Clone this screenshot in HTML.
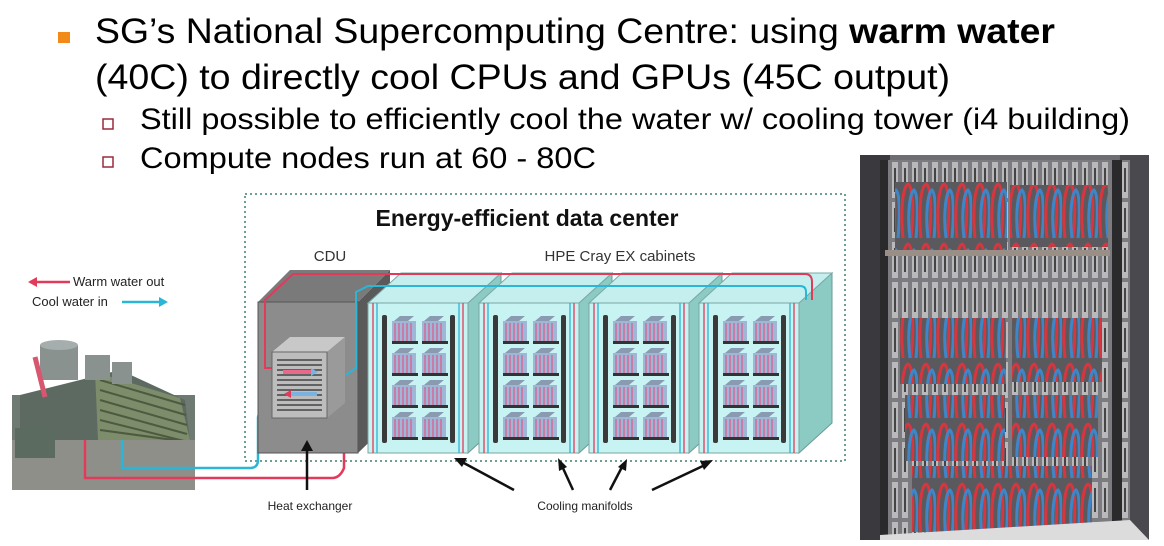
<!DOCTYPE html>
<html><head><meta charset="utf-8"><style>
html,body{margin:0;padding:0;background:#fff;}
body{width:1164px;height:546px;overflow:hidden;position:relative;font-family:"Liberation Sans",Arial,sans-serif;}
</style></head><body>
<svg width="1164" height="546" viewBox="0 0 1164 546" xmlns="http://www.w3.org/2000/svg" style="position:absolute;left:0;top:0">
<defs>
 <pattern id="loops" x="0" y="0" width="18" height="60" patternUnits="userSpaceOnUse">
  <rect width="18" height="60" fill="#5a5a5e"/>
  <path d="M3 58 C0 30 3 6 8 4 C13 6 14 30 11 58" fill="none" stroke="#d8353f" stroke-width="3"/>
  <path d="M10 58 C7 34 10 12 14 10 C18 14 18 36 16 58" fill="none" stroke="#3f86c9" stroke-width="3"/>
 </pattern>
 <pattern id="blades" x="0" y="0" width="10" height="40" patternUnits="userSpaceOnUse">
  <rect width="10" height="40" fill="#7b7b80"/>
  <rect x="2" y="2" width="6" height="36" fill="#b9b9bc"/>
  <rect x="4" y="8" width="2" height="24" fill="#444"/>
 </pattern>
 <g id="module">
  <rect x="0" y="4" width="24" height="22" fill="#9fb6d6"/>
  <path d="M3 6v20M7 6v20M11 6v20M15 6v20M19 6v20" stroke="#d46b9a" stroke-width="1.5"/>
  <path d="M2 4 l6 -5 h14 l-6 5z" fill="#8a9ab0"/>
  <rect x="0" y="24" width="26" height="3" fill="#333"/>
 </g>
 <g id="cab">
  <polygon points="100,0 133,-30 133,120 100,150" fill="#8ccbc4" stroke="#6a9a96"/>
  <polygon points="0,0 33,-30 133,-30 100,0" fill="#c4efee" stroke="#7aaaa6"/>
  <rect x="0" y="0" width="100" height="150" fill="#c8f3f3" stroke="#7aa6a2"/>
  <path d="M5 150V0M95 150V0" stroke="#e23a5b" stroke-width="1.3"/>
  <path d="M9 150V0M91 150V0" stroke="#2bb5d6" stroke-width="1.3"/>
  <rect x="14" y="12" width="5" height="128" fill="#3a3a3a" rx="2"/>
  <rect x="82" y="12" width="5" height="128" fill="#3a3a3a" rx="2"/>
  <use href="#module" x="24" y="14"/><use href="#module" x="54" y="14"/>
  <use href="#module" x="24" y="46"/><use href="#module" x="54" y="46"/>
  <use href="#module" x="24" y="78"/><use href="#module" x="54" y="78"/>
  <use href="#module" x="24" y="110"/><use href="#module" x="54" y="110"/>
 </g>
</defs>

<!-- text -->
<rect x="58" y="32" width="12" height="11" fill="#f28a1a"/>
<text x="95" y="43" font-size="35" fill="#000" textLength="960" lengthAdjust="spacingAndGlyphs">SG’s National Supercomputing Centre: using <tspan font-weight="bold">warm water</tspan></text>
<text x="95" y="89" font-size="35" fill="#000" textLength="855" lengthAdjust="spacingAndGlyphs">(40C) to directly cool CPUs and GPUs (45C output)</text>
<rect x="103" y="119" width="10" height="10" fill="#fff" stroke="#9b2a3a" stroke-width="1.5"/>
<text x="140" y="129" font-size="30" fill="#000" textLength="990" lengthAdjust="spacingAndGlyphs">Still possible to efficiently cool the water w/ cooling tower (i4 building)</text>
<rect x="103" y="157" width="10" height="10" fill="#fff" stroke="#9b2a3a" stroke-width="1.5"/>
<text x="140" y="168" font-size="30" fill="#000" textLength="456" lengthAdjust="spacingAndGlyphs">Compute nodes run at 60 - 80C</text>

<!-- diagram box -->
<rect x="245" y="194" width="600" height="267" fill="none" stroke="#3f7f70" stroke-width="1.5" stroke-dasharray="2,3"/>
<text x="527" y="226" font-size="23" font-weight="bold" text-anchor="middle" fill="#111">Energy-efficient data center</text>
<text x="330" y="261" font-size="15" text-anchor="middle" fill="#333">CDU</text>
<text x="620" y="261" font-size="15" text-anchor="middle" fill="#333">HPE Cray EX cabinets</text>

<!-- legend -->
<path d="M30 282H70" stroke="#e23a5b" stroke-width="2.5"/><path d="M28 282l9-5v10z" fill="#e23a5b"/>
<text x="73" y="286" font-size="13" fill="#222">Warm water out</text>
<text x="32" y="306" font-size="13" fill="#222">Cool water in</text>
<path d="M122 302H160" stroke="#2bb5d6" stroke-width="2.5"/><path d="M168 302l-9-5v10z" fill="#2bb5d6"/>

<!-- cooling tower -->
<rect x="12" y="395" width="183" height="95" fill="#6f7a72"/>
<polygon points="20,395 120,370 185,400 190,440 20,440" fill="#5c6a62"/>
<polygon points="95,372 180,398 190,440 98,440" fill="#7d8c6a"/>
<path d="M100 380l85 25M100 390l86 25M100 400l87 25M100 410l87 24M100 420l88 22M100 430l88 12" stroke="#4d5a3f" stroke-width="2"/>
<rect x="40" y="345" width="38" height="35" fill="#8a9290"/><ellipse cx="59" cy="345" rx="19" ry="5" fill="#a5aeac"/>
<rect x="85" y="355" width="25" height="25" fill="#8a9290"/>
<rect x="112" y="362" width="20" height="22" fill="#8a9290"/>
<rect x="12" y="440" width="183" height="50" fill="#8f8f8a"/>
<rect x="15" y="428" width="40" height="30" fill="#5b6b60"/>
<path d="M35 357l10 40" stroke="#d8566f" stroke-width="5"/>

<!-- pipes bottom -->
<path d="M122 440V468H250Q258 468 258 460V418Q258 412 268 410" fill="none" stroke="#2bb5d6" stroke-width="2.5"/>
<path d="M85 440V478H332Q340 478 344 468V402Q344 396 350 395" fill="none" stroke="#e23a5b" stroke-width="2.5"/>

<!-- CDU -->
<polygon points="358,302 390,270 390,422 358,453" fill="#5a5a5a"/>
<polygon points="258,302 290,270 390,270 358,302" fill="#7a7a7a"/>
<rect x="258" y="302" width="100" height="151" fill="#8c8c8c" stroke="#555"/>
<path d="M272 368H265V300L293 274H780" fill="none" stroke="#e23a5b" stroke-width="2"/>
<path d="M346 375L356 368V292L368 286H800" fill="none" stroke="#2bb5d6" stroke-width="2"/>
<!-- heat exchanger -->
<polygon points="272,352 290,337 345,337 327,352" fill="#c8c8c8"/>
<polygon points="327,352 345,337 345,403 327,418" fill="#9a9a9a"/>
<rect x="272" y="352" width="55" height="66" fill="#bdbdbd" stroke="#666"/>
<path d="M277 360h45M277 365h45M277 370h45M277 375h45M277 380h45M277 385h45M277 390h45M277 395h45M277 400h45M277 405h45M277 410h45" stroke="#444" stroke-width="1.6"/>
<path d="M283 372h28" stroke="#e86a8a" stroke-width="4"/><path d="M318 372l-7-4v8z" fill="#7ab3e0"/>
<path d="M289 394h28" stroke="#7ab3e0" stroke-width="4"/><path d="M284 394l7-4v8z" fill="#e23a5b"/>

<!-- cabinets -->
<use href="#cab" x="368" y="303"/>
<use href="#cab" x="479" y="303"/>
<use href="#cab" x="589" y="303"/>
<use href="#cab" x="699" y="303"/>
<path d="M293 274H805Q812 274 812 282V300" fill="none" stroke="#e23a5b" stroke-width="2"/>
<path d="M368 286H800Q806 286 806 292V300" fill="none" stroke="#2bb5d6" stroke-width="2"/>

<!-- arrows -->
<g stroke="#111" stroke-width="2.5" fill="#111">
 <path d="M307 490V448"/><path d="M307 440l-6 11h12z" stroke="none"/>
 <path d="M514 490L462 462"/><path d="M454 458l13 0-5 9z" stroke="none"/>
 <path d="M573 490L562 466"/><path d="M558 458l1 13 8-4z" stroke="none"/>
 <path d="M610 490L622 467"/><path d="M627 459l-9 8 8 4z" stroke="none"/>
 <path d="M652 490L705 465"/><path d="M713 460l-13 1 4 9z" stroke="none"/>
</g>
<text x="310" y="510" font-size="12" text-anchor="middle" fill="#222">Heat exchanger</text>
<text x="585" y="510" font-size="12" text-anchor="middle" fill="#222">Cooling manifolds</text>

<!-- photo -->
<rect x="860" y="155" width="289" height="385" fill="#6e6e72"/>
<polygon points="860,155 890,155 885,540 860,540" fill="#3a3a3e"/>
<polygon points="1120,155 1149,155 1149,540 1110,540" fill="#4a4a4e"/>
<rect x="880" y="160" width="250" height="380" fill="url(#blades)"/>
<rect x="880" y="160" width="8" height="375" fill="#2a2a2c"/>
<rect x="1112" y="160" width="10" height="375" fill="#2a2a2c"/>
<rect x="895" y="182" width="112" height="68" fill="url(#loops)"/>
<rect x="1010" y="185" width="98" height="62" fill="url(#loops)"/>
<rect x="885" y="250" width="225" height="6" fill="#9a8f86"/>
<rect x="900" y="318" width="106" height="66" fill="url(#loops)"/>
<rect x="1012" y="318" width="90" height="64" fill="url(#loops)"/>
<rect x="905" y="395" width="100" height="66" fill="url(#loops)"/>
<rect x="1012" y="395" width="86" height="62" fill="url(#loops)"/>
<rect x="912" y="466" width="180" height="66" fill="url(#loops)"/>
<polygon points="880,535 1130,520 1149,540 880,540" fill="#dcdcdc"/>
</svg>
</body></html>
